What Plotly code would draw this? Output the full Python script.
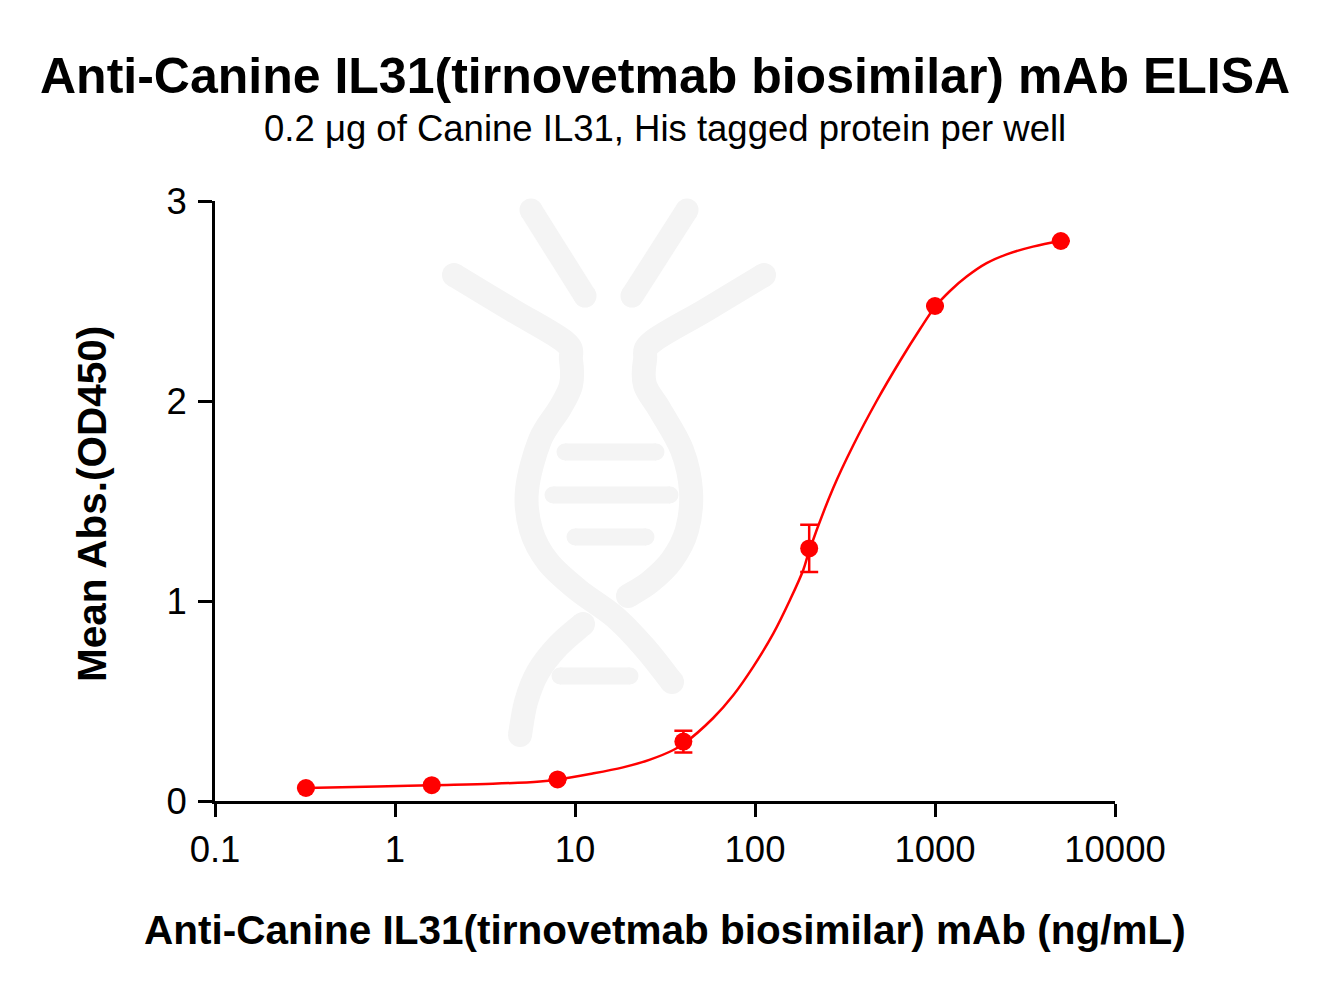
import plotly.graph_objects as go

# ---------------- data ----------------
conc = [0.32, 1.6, 8, 40, 200, 1000, 5000]
mean_abs = [0.065, 0.079, 0.108, 0.297, 1.263, 2.475, 2.80]
err = [0, 0, 0, 0.054, 0.118, 0, 0]

# fitted curve
fit_x = [0.32, 0.8, 1.6, 3.5, 6.4, 8, 12.1, 18.5, 26.1, 35.2, 40, 58.6, 75.9, 97.9,
         126.5, 156.4, 185.4, 200, 272, 352, 474, 639, 826, 1000, 1211, 1500, 1936,
         2500, 3501, 5000]
fit_y = [0.065, 0.072, 0.079, 0.086, 0.098, 0.108, 0.135, 0.168, 0.207, 0.255, 0.285,
         0.415, 0.53, 0.672, 0.838, 1.005, 1.155, 1.25, 1.565, 1.78, 2.0, 2.2,
         2.36, 2.47, 2.55, 2.622, 2.689, 2.733, 2.772, 2.80]

x_tickvals = [0.1, 1, 10, 100, 1000, 10000]
x_ticktext = ["0.1", "1", "10", "100", "1000", "10000"]
y_tickvals = [0, 1, 2, 3]

RED = "#ff0000"
FONT = "Liberation Sans, Arial, sans-serif"

W, H = 1330, 995
L, R, T, B = 215, 1115, 201, 801   # plot area in pixels


def px(x, y):
    return (x - L) / (R - L), (B - y) / (B - T)


def smooth_path(pts):
    # Catmull-Rom -> cubic bezier, in paper coords
    p = [px(*q) for q in pts]
    d = "M %.5f,%.5f" % p[0]
    for i in range(len(p) - 1):
        p0 = p[i - 1] if i > 0 else p[i]
        p1, p2 = p[i], p[i + 1]
        p3 = p[i + 2] if i + 2 < len(p) else p2
        c1 = (p1[0] + (p2[0] - p0[0]) / 6, p1[1] + (p2[1] - p0[1]) / 6)
        c2 = (p2[0] - (p3[0] - p1[0]) / 6, p2[1] - (p3[1] - p1[1]) / 6)
        d += " C %.5f,%.5f %.5f,%.5f %.5f,%.5f" % (c1 + c2 + p2)
    return d


WM = "#f4f4f4"
shapes = []


def stroke(pts, w=23):
    shapes.append(dict(type="path", path=smooth_path(pts), xref="paper", yref="paper",
                       line=dict(color=WM, width=w), layer="below"))
    for q in (pts[0], pts[-1]):
        r = w / 2
        x0, y0 = px(q[0] - r, q[1] + r)
        x1, y1 = px(q[0] + r, q[1] - r)
        shapes.append(dict(type="circle", xref="paper", yref="paper", x0=x0, y0=y0,
                           x1=x1, y1=y1, fillcolor=WM, line=dict(width=0), layer="below"))


# watermark (DNA logo)
stroke([(531, 210), (585, 296)])
stroke([(687, 210), (632, 296)])
stroke([(454, 275), (512, 310), (565, 342), (571, 360), (571, 385), (560, 408),
        (540, 440), (527, 490), (531, 530), (548, 562), (578, 590), (615, 617),
        (645, 648), (672, 682)], 24)
stroke([(764, 275), (706, 310), (652, 342), (645, 360), (645, 385), (660, 410),
        (682, 450), (691, 491), (687, 530), (672, 560), (650, 582), (628, 596)], 24)
stroke([(583, 624), (558, 646), (538, 672), (526, 702), (520, 735)], 24)
stroke([(565, 452), (656, 452)], 17)
stroke([(553, 495), (670, 495)], 17)
stroke([(575, 537), (646, 537)], 17)
stroke([(560, 676), (630, 676)], 17)

fig = go.Figure()
fig.add_trace(go.Scatter(x=fit_x, y=fit_y, mode="lines",
                         line=dict(color=RED, width=2.5, shape="spline", smoothing=1.0),
                         hoverinfo="skip", showlegend=False))
fig.add_trace(go.Scatter(x=conc, y=mean_abs, mode="markers",
                         marker=dict(color=RED, size=18, line=dict(width=0)),
                         error_y=dict(type="data", array=err, visible=True, color=RED,
                                      thickness=2.5, width=9),
                         showlegend=False))

annotations = []


def text(s, x, y, size, bold=False, angle=0):
    xp, yp = px(x, y)
    annotations.append(dict(text="<b>%s</b>" % s if bold else s, x=xp, y=yp, xref="paper", yref="paper",
                            showarrow=False, xanchor="center", yanchor="middle", textangle=angle,
                            font=dict(family=FONT, size=size, color="black")))


text("Anti-Canine IL31(tirnovetmab biosimilar) mAb ELISA", 665, 76, 50, bold=True)
text("0.2 μg of Canine IL31, His tagged protein per well", 665, 129, 36.5)
text("Anti-Canine IL31(tirnovetmab biosimilar) mAb (ng/mL)", 665, 930, 40.5, bold=True)
text("Mean Abs.(OD450)", 92, 504, 40.5, bold=True, angle=-90)

fig.update_layout(
    width=W, height=H,
    margin=dict(l=L, r=W - R, t=T, b=H - B, pad=0),
    paper_bgcolor="white", plot_bgcolor="rgba(0,0,0,0)",
    shapes=shapes, annotations=annotations,
    xaxis=dict(type="log", range=[-1, 4], tickvals=x_tickvals, ticktext=x_ticktext,
               showgrid=False, zeroline=False, showline=True, linecolor="black", linewidth=3,
               ticks="outside", ticklen=13, tickwidth=3, tickcolor="black",
               tickfont=dict(family=FONT, size=36.5, color="black"), ticklabelstandoff=1),
    yaxis=dict(range=[0, 3], tickvals=y_tickvals, showgrid=False, zeroline=False,
               showline=True, linecolor="black", linewidth=3,
               ticks="outside", ticklen=14, tickwidth=3, tickcolor="black",
               tickfont=dict(family=FONT, size=36.5, color="black"), ticklabelstandoff=4),
)

fig.write_html("out.html")
